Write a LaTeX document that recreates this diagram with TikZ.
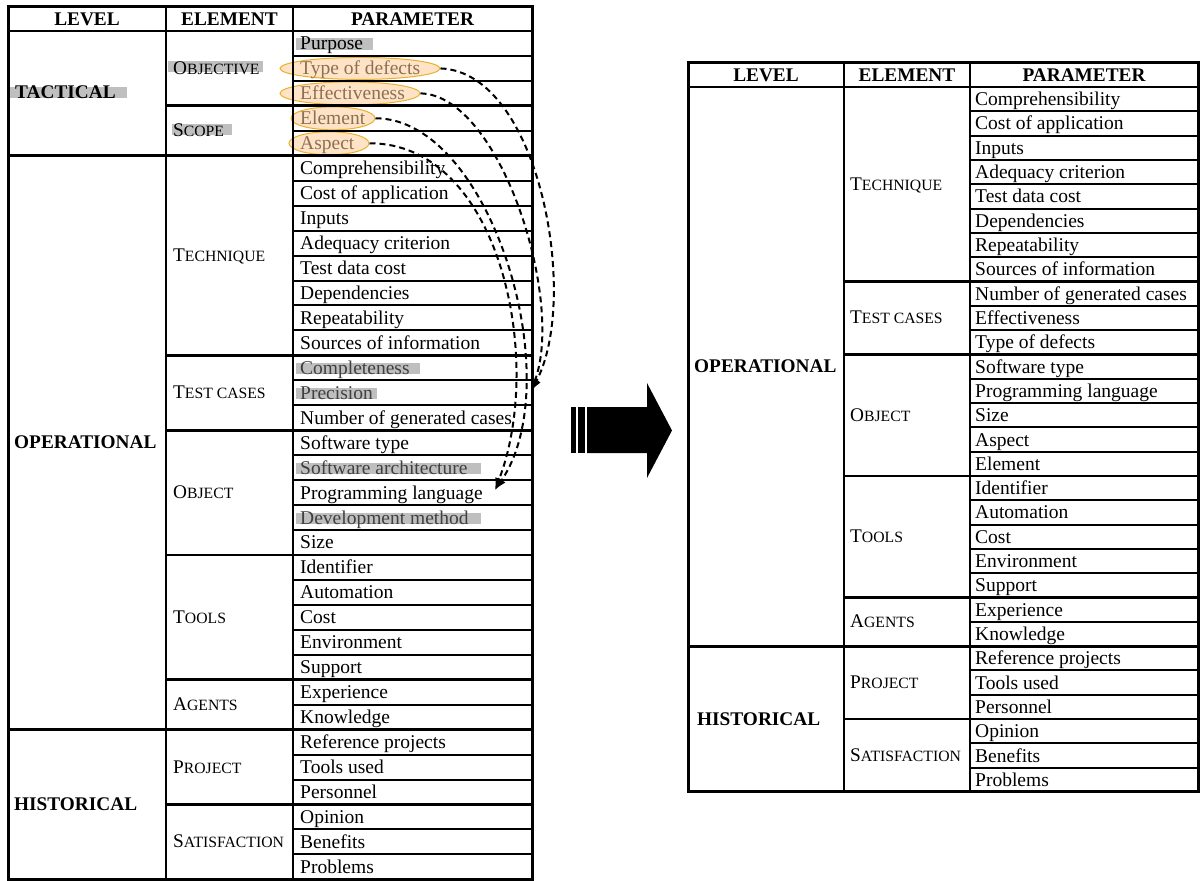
\documentclass[tikz,border=0pt]{standalone}
\usepackage{fontspec}
\setmainfont{Liberation Serif}
\usetikzlibrary{arrows.meta,shapes.geometric}
\newcommand{\fsc}[2]{#1{\fontsize{15.7}{15.7}\selectfont #2}}
\begin{document}
\begin{tikzpicture}[x=1pt,y=-1pt,
  outerline/.style={line width=3pt},
  grpline/.style={line width=2.8pt},
  rowline/.style={line width=2pt},
  hdr/.style={font=\fontsize{19.3}{19.3}\selectfont\bfseries, inner sep=0pt, anchor=base},
  lvl/.style={font=\fontsize{19.3}{19.3}\selectfont\bfseries, inner sep=0pt, anchor=base west},
  elm/.style={font=\fontsize{19.3}{19.3}\selectfont, inner sep=0pt, anchor=base west},
  par/.style={font=\fontsize{19.5}{19.5}\selectfont, inner sep=0pt, anchor=base west},
  hl/.style={fill=black!25},
  ov/.style={ellipse, draw=orange!60!yellow!90!black, line width=1pt, fill=orange!40!white, fill opacity=0.55, draw opacity=0.8, inner sep=0pt},
  dasharrow/.style={line width=2pt, dash pattern=on 6pt off 4pt, -{Latex[length=12pt,width=9pt]}}
]
\useasboundingbox (0,0) rectangle (1200,881);
\fill[white] (0,0) rectangle (1200,881);

%================ LEFT TABLE =================
\def\rh{24.95}
% grey highlight boxes
\fill[hl] (10,87) rectangle (127,98);
\fill[hl] (168,61) rectangle (263,72);
\fill[hl] (172,124) rectangle (232,135);
\foreach \i/\xe in {0/373,13/420,14/377,17/481,19/481}{
  \pgfmathsetmacro\bl{31+(\i+0.5)*\rh+6.5}
  \fill[hl] (296,\bl-11.5) rectangle (\xe,\bl);
}

% header
\node[hdr] (lhLevel) at (87,25) {LEVEL};
\node[hdr] (lhElem) at (229.5,25) {ELEMENT};
\node[hdr] (lhPar) at (412.5,25) {PARAMETER};

% level labels
\node[lvl] (lTac) at (15,{31+2.5*\rh+5.5}) {TACTICAL};
\node[lvl] (lOpe) at (14,{31+16.5*\rh+6}) {OPERATIONAL};
\node[lvl] (lHis) at (14,{31+31*\rh+6}) {HISTORICAL};

% element labels
\foreach \nm/\a/\b/\t in {lObj/0/3/{\fsc{O}{BJECTIVE}}, lSco/3/5/{\fsc{S}{COPE}},
  lTec/5/13/{\fsc{T}{ECHNIQUE}}, lTes/13/16/{\fsc{T}{EST CASES}},
  lObt/16/21/{\fsc{O}{BJECT}}, lToo/21/26/{\fsc{T}{OOLS}},
  lAge/26/28/{\fsc{A}{GENTS}}, lPro/28/31/{\fsc{P}{ROJECT}},
  lSat/31/34/{\fsc{S}{ATISFACTION}}}{
  \node[elm] (\nm) at (173,{31+(\a+\b)/2*\rh+6}) {\t};
}

% parameters
\foreach \t/\c [count=\i from 0] in {Purpose/black, Type of defects/black, Effectiveness/black,
  Element/black, Aspect/black, Comprehensibility/black, Cost of application/black,
  Inputs/black, Adequacy criterion/black, Test data cost/black, Dependencies/black,
  Repeatability/black, Sources of information/black, Completeness/black!75,
  Precision/black!75, Number of generated cases/black, Software type/black,
  Software architecture/black!75, Programming language/black, Development method/black!75,
  Size/black, Identifier/black, Automation/black, Cost/black, Environment/black,
  Support/black, Experience/black, Knowledge/black, Reference projects/black,
  Tools used/black, Personnel/black, Opinion/black, Benefits/black, Problems/black}{
  \node[par, text=\c] (lp\i) at (300,{31+(\i+0.5)*\rh+6.5}) {\t};
}

% orange ellipses
\node[ov, minimum width=160pt, minimum height=22pt] (tod) at (360,{31+1.5*\rh}) {};
\node[ov, minimum width=140pt, minimum height=23pt] (eff) at (350,{31+2.5*\rh}) {};
\node[ov, minimum width=84pt, minimum height=23pt] (ele) at (333,{31+3.5*\rh}) {};
\node[ov, minimum width=80pt, minimum height=23pt] (asp) at (329,{31+4.5*\rh}) {};

% table lines
\pgfmathsetmacro\lbot{31+34*\rh}
\foreach \i in {1,2,4,6,7,8,9,10,11,12,14,15,17,18,19,20,22,23,24,25,27,29,30,32,33}{
  \draw[rowline] (293,{31+\i*\rh}) -- (532,{31+\i*\rh});
}
\foreach \i in {3,13,16,21,26,31}{
  \draw[grpline] (166,{31+\i*\rh}) -- (532,{31+\i*\rh});
}
\foreach \i in {0,5,28}{
  \draw[grpline] (8,{31+\i*\rh}) -- (532,{31+\i*\rh});
}
\draw[grpline] (166,6) -- (166,\lbot);
\draw[grpline] (293,6) -- (293,\lbot);
\draw[outerline] (8,6) rectangle (532,\lbot);

% dashed arrows
\coordinate (tcEnd) at (531,391);
\coordinate (obEnd) at (495,490);
\draw[dasharrow] (tod.east) .. controls (540,72) and (580,300) .. (tcEnd);
\draw[dasharrow] (eff.east) .. controls (500,95) and (565,300) .. (tcEnd);
\draw[dasharrow] (ele.east) .. controls (490,118) and (570,380) .. (obEnd);
\draw[dasharrow] (asp.east) .. controls (500,143) and (545,360) .. (obEnd);

%================ BIG ARROW =================
\fill (571,407) rectangle (576,453);
\fill (578,407) rectangle (585,453);
\fill (587,407) -- (647,407) -- (647,383) -- (672,430.5) -- (647,478) -- (647,453) -- (587,453) -- cycle;

%================ RIGHT TABLE =================
\def\rr{24.31}
\node[hdr] (rhLevel) at (766,81) {LEVEL};
\node[hdr] (rhElem) at (907,81) {ELEMENT};
\node[hdr] (rhPar) at (1084,81) {PARAMETER};

\node[lvl] (rOpe) at (694,{87+11.5*\rr+6}) {OPERATIONAL};
\node[lvl] (rHis) at (697,{87+26*\rr+6}) {HISTORICAL};

\foreach \nm/\a/\b/\t in {rTec/0/8/{\fsc{T}{ECHNIQUE}}, rTes/8/11/{\fsc{T}{EST CASES}},
  rObt/11/16/{\fsc{O}{BJECT}}, rToo/16/21/{\fsc{T}{OOLS}},
  rAge/21/23/{\fsc{A}{GENTS}}, rPro/23/26/{\fsc{P}{ROJECT}},
  rSat/26/29/{\fsc{S}{ATISFACTION}}}{
  \node[elm] (\nm) at (850,{87+(\a+\b)/2*\rr+6}) {\t};
}

\foreach \t [count=\i from 0] in {Comprehensibility, Cost of application, Inputs,
  Adequacy criterion, Test data cost, Dependencies, Repeatability, Sources of information,
  Number of generated cases, Effectiveness, Type of defects, Software type,
  Programming language, Size, Aspect, Element, Identifier, Automation, Cost,
  Environment, Support, Experience, Knowledge, Reference projects, Tools used,
  Personnel, Opinion, Benefits, Problems}{
  \node[par] (rp\i) at (975,{87+(\i+0.5)*\rr+6.5}) {\t};
}

\pgfmathsetmacro\rbot{87+29*\rr}
\foreach \i in {1,2,3,4,5,6,7,9,10,12,13,14,15,17,18,19,20,22,24,25,27,28}{
  \draw[rowline] (970,{87+\i*\rr}) -- (1198,{87+\i*\rr});
}
\foreach \i in {8,11,16,21,26}{
  \draw[grpline] (844,{87+\i*\rr}) -- (1198,{87+\i*\rr});
}
\foreach \i in {0,23}{
  \draw[grpline] (688,{87+\i*\rr}) -- (1198,{87+\i*\rr});
}
\draw[grpline] (844,62) -- (844,\rbot);
\draw[grpline] (970,62) -- (970,\rbot);
\draw[outerline] (688,62) rectangle (1198,\rbot);
\end{tikzpicture}
\end{document}
